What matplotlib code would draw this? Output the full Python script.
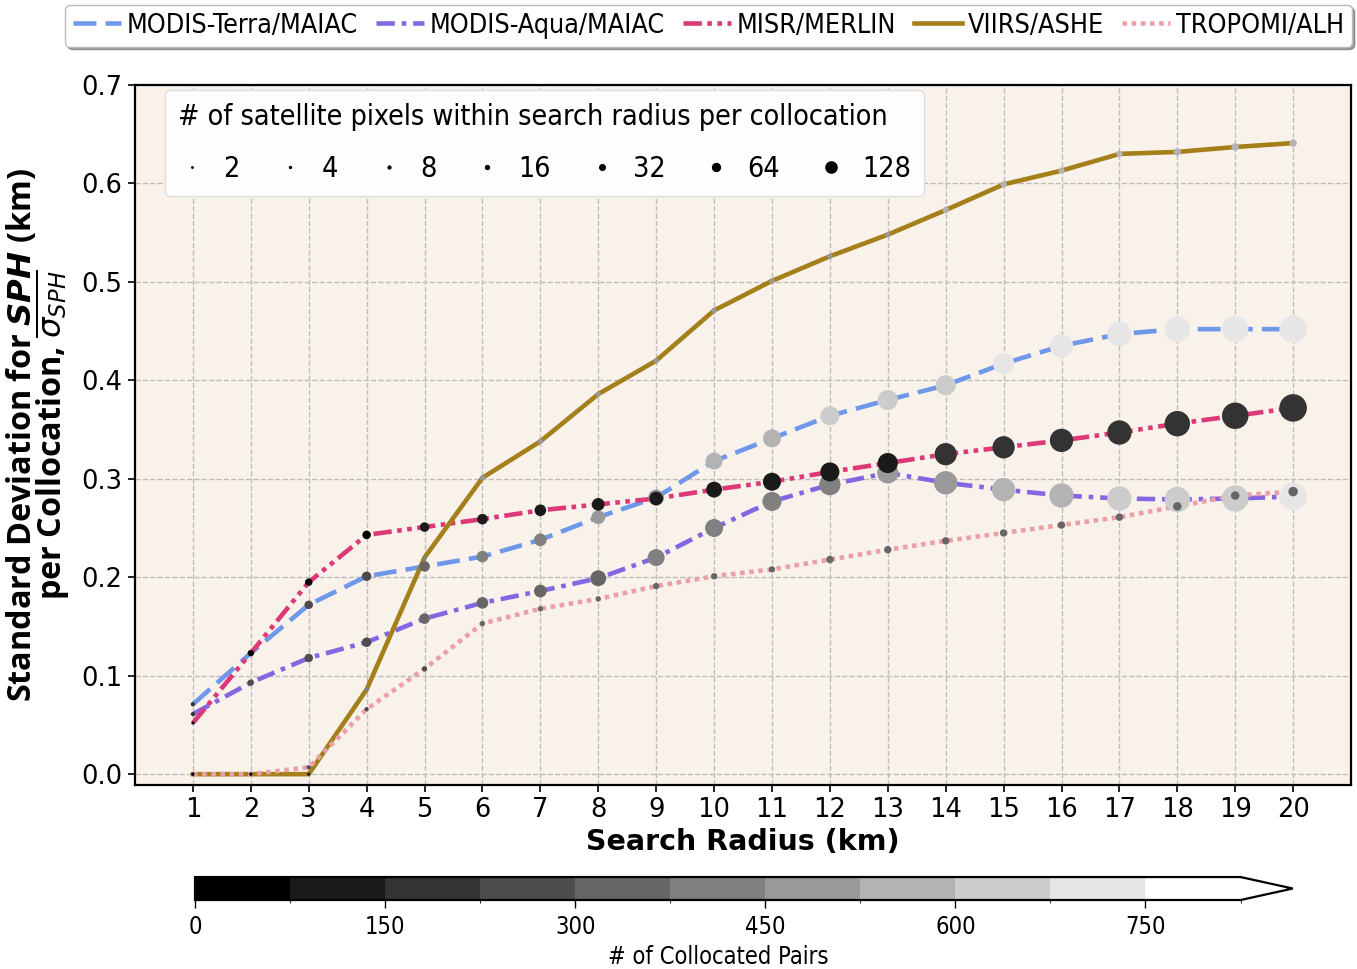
import numpy as np
import matplotlib
matplotlib.use("Agg")
import matplotlib.pyplot as plt
from matplotlib.colors import ListedColormap, BoundaryNorm
from matplotlib.font_manager import FontProperties
from matplotlib.lines import Line2D

# ── data ─────────────────────────────────────────────────────────────────────
radius = np.arange(1, 21)

terra_std = [0.071, 0.123, 0.172, 0.201, 0.211, 0.221, 0.238, 0.261, 0.281, 0.318,
             0.341, 0.364, 0.380, 0.395, 0.417, 0.435, 0.447, 0.452, 0.452, 0.452]
aqua_std = [0.061, 0.093, 0.118, 0.134, 0.158, 0.174, 0.186, 0.199, 0.220, 0.250,
            0.277, 0.294, 0.306, 0.296, 0.289, 0.283, 0.280, 0.279, 0.280, 0.282]
misr_std = [0.052, 0.123, 0.195, 0.243, 0.251, 0.259, 0.268, 0.274, 0.280, 0.289,
            0.297, 0.307, 0.316, 0.325, 0.332, 0.339, 0.347, 0.356, 0.364, 0.372]
viirs_std = [0.000, 0.000, 0.000, 0.086, 0.220, 0.301, 0.338, 0.386, 0.420, 0.471,
             0.501, 0.526, 0.548, 0.573, 0.599, 0.613, 0.630, 0.632, 0.637, 0.641]
tropomi_std = [0.000, 0.000, 0.007, 0.066, 0.107, 0.153, 0.168, 0.178, 0.191, 0.201,
               0.208, 0.218, 0.228, 0.237, 0.245, 0.253, 0.261, 0.272, 0.283, 0.287]

# satellite pixels within search radius per collocation (marker size)
terra_pix = [18, 28, 72, 90, 112, 135, 161, 189, 251, 286,
             323, 362, 403, 403, 447, 541, 591, 643, 698, 755]
aqua_pix = [18, 40, 72, 90, 112, 135, 161, 251, 286, 323,
            362, 447, 447, 541, 541, 591, 591, 643, 698, 755]
misr_pix = [10, 40, 55, 72, 90, 112, 135, 161, 189, 251,
            323, 362, 403, 493, 493, 541, 591, 643, 698, 755]
viirs_pix = [10, 10, 10, 18, 18, 28, 28, 28, 28, 28,
             28, 28, 28, 40, 40, 40, 40, 55, 55, 55]
tropomi_pix = [10, 10, 18, 18, 28, 28, 28, 28, 40, 40,
               40, 55, 55, 55, 55, 55, 55, 72, 72, 90]

# collocated pairs (marker colour)
terra_pairs = [190, 190, 260, 260, 340, 410, 410, 490, 490, 560,
               560, 640, 640, 640, 710, 710, 710, 710, 710, 710]
aqua_pairs = [190, 260, 260, 260, 340, 340, 340, 340, 410, 410,
              410, 410, 490, 490, 560, 560, 640, 640, 640, 710]
misr_pairs = [40, 40, 40, 40, 110, 110, 110, 110, 110, 110,
              110, 110, 110, 190, 190, 190, 190, 190, 190, 190]
viirs_pairs = [110, 110, 110, 410, 410, 490, 490, 490, 490, 490,
               490, 490, 490, 560, 560, 560, 560, 560, 560, 560]
tropomi_pairs = [40, 40, 260, 260, 260, 340, 340, 340, 340, 340,
                 340, 340, 340, 340, 340, 340, 340, 340, 340, 340]

series_names = ["MODIS-Terra/MAIAC", "MODIS-Aqua/MAIAC", "MISR/MERLIN",
                "VIIRS/ASHE", "TROPOMI/ALH"]
size_levels = [2, 4, 8, 16, 32, 64, 128]
pair_bounds = np.arange(0, 826, 75)
cbar_ticks = [0, 150, 300, 450, 600, 750]

# ── styling ──────────────────────────────────────────────────────────────────
series = [
    (terra_std, terra_pix, terra_pairs, "#6F98EA", (0, (5, 2))),
    (aqua_std, aqua_pix, aqua_pairs, "#8367E2", (0, (4, 1.5, 1, 1.5))),
    (misr_std, misr_pix, misr_pairs, "#DD3878", (0, (4, 1.2, 1, 1.2, 1, 1.2))),
    (viirs_std, viirs_pix, viirs_pairs, "#A47F1A", "-"),
    (tropomi_std, tropomi_pix, tropomi_pairs, "#EBA0A8", (0, (1, 1))),
]
size_scale = 0.52

cmap = ListedColormap([str(g) for g in np.linspace(0, 1, 11)])
cmap.set_over("white")
norm = BoundaryNorm(pair_bounds, ncolors=cmap.N)

leg_font = FontProperties(family="DejaVu Sans", stretch="condensed", size=19.3)
size_font = FontProperties(family="DejaVu Sans", stretch="condensed", size=20.5)
cb_font = FontProperties(family="DejaVu Sans", stretch="condensed", size=17)

fig = plt.figure(figsize=(13.57, 9.69), dpi=100)
ax = fig.add_axes([0.0995, 0.1899, 0.8961, 0.7224])
ax.set_facecolor("#F8F2EA")

handles = []
sc = None
for (std, pix, pairs, color, ls), name in zip(series, series_names):
    ln, = ax.plot(radius, std, color=color, ls=ls, lw=3.3, label=name, zorder=2)
    handles.append(ln)
    sc = ax.scatter(radius, std, s=np.array(pix) * size_scale, c=pairs,
                    cmap=cmap, norm=norm, edgecolors="none", zorder=3)

ax.set_xlim(0, 21)
ax.set_ylim(-0.011, 0.7)
ax.set_xticks(radius)
ax.set_yticks(np.arange(0, 0.71, 0.1))
ax.yaxis.set_major_formatter(plt.FormatStrFormatter("%.1f"))
ax.tick_params(labelsize=18.5, width=1.2, length=5, pad=4)
ax.grid(True, ls="--", color="#BDBDBD", lw=1)
ax.set_axisbelow(True)
for sp in ax.spines.values():
    sp.set_linewidth(1.6)

ax.set_xlabel("Search Radius (km)", fontsize=20.5, fontweight="bold", labelpad=3)
ax.set_ylabel("Standard Deviation for $\\mathbfit{SPH}$ (km)\nper Collocation, "
              "$\\overline{\\sigma_{SPH}}$",
              fontsize=23.3, fontweight="bold", family="Open Sans", labelpad=7,
              linespacing=0.8)

# size legend
size_handles = [Line2D([], [], ls="", marker="o", color="black",
                       markersize=np.sqrt(n * 0.5)) for n in size_levels]
leg2 = ax.legend(size_handles, [str(n) for n in size_levels], ncol=7,
                 loc="upper left", bbox_to_anchor=(0.0247, 0.993), prop=size_font,
                 title="# of satellite pixels within search radius per collocation",
                 title_fontproperties=size_font, alignment="left", frameon=True,
                 framealpha=0.85, facecolor="white", edgecolor="#DDDDDD",
                 handletextpad=0.6, columnspacing=1.28, handlelength=1.0,
                 borderpad=0.45, labelspacing=0.85, borderaxespad=0)
ax.add_artist(leg2)

# series legend on top
fig.legend(handles=handles, loc="upper center", bbox_to_anchor=(0.522, 1.009),
           ncol=5, prop=leg_font, shadow=True, fancybox=True, handlelength=1.8,
           handletextpad=0.2, columnspacing=0.68, borderpad=0.3,
           edgecolor="#BBBBBB")

# colorbar
cax = fig.add_axes([0.1437, 0.0712, 0.809, 0.0237])
cb = fig.colorbar(sc, cax=cax, orientation="horizontal", extend="max",
                  ticks=cbar_ticks, extendfrac=0.05)
cb.outline.set_linewidth(1.6)
cb.set_label("# of Collocated Pairs", fontproperties=cb_font, labelpad=4)
for t in cax.get_xticklabels():
    t.set_fontproperties(cb_font)
cax.tick_params(length=6, width=1, pad=5)

fig.savefig("out.png", dpi=100)
